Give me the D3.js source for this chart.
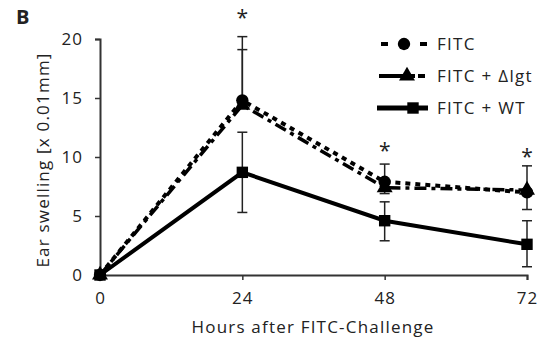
<!DOCTYPE html>
<html>
<head>
<script src="https://cdnjs.cloudflare.com/ajax/libs/d3/7.8.5/d3.min.js"></script>
<style>
  body { margin: 0; background: #fff; }
  text { font-family: "Open Sans", sans-serif; fill: #222; }
</style>
</head>
<body>
<svg id="chart" width="543" height="342"></svg>
<script>
  // data
  var hours = [0, 24, 48, 72];
  var fitc = [0, 14.8, 7.9, 7.0];
  var fitcHi = [0, 20.2, 9.4, 9.25];
  var fitcLo = [0, 14.8, 6.9, 5.55];
  var dlgt = [0, 14.4, 7.4, 7.2];
  var dlgtHi = [0, 19.1, 7.4, 7.2];
  var wt = [0, 8.7, 4.6, 2.6];
  var wtHi = [0, 12.1, 6.2, 4.6];
  var wtLo = [0, 5.3, 2.9, 0.7];
  var yTicks = [0, 5, 10, 15, 20];
  var stars = [24, 48, 72];
  var starY = [22.2, 10.9, 10.4];
  var legendNames = ["FITC", "FITC + \u0394lgt", "FITC + WT"];

  var svg = d3.select("#chart");
  var x = d3.scaleLinear().domain([0, 72]).range([100, 527]);
  var y = d3.scaleLinear().domain([0, 20]).range([275, 39]);

  // axes
  var xAxis = svg.append("g").attr("transform", "translate(0,275)")
    .call(d3.axisBottom(x).tickValues(hours).tickSize(5).tickPadding(12));
  var yAxis = svg.append("g").attr("transform", "translate(100,0)")
    .call(d3.axisLeft(y).tickValues(yTicks).tickSize(5).tickPadding(12));
  [xAxis, yAxis].forEach(function(a) {
    a.select(".domain").attr("stroke", "#333").attr("stroke-width", 2);
    a.selectAll(".tick line").attr("stroke", "#333").attr("stroke-width", 1.5);
    a.selectAll("text").style("font-size", "17px").style("letter-spacing", "1px").attr("fill", "#222");
  });

  svg.append("text").attr("x", 313).attr("y", 333).attr("text-anchor", "middle")
    .style("font-size", "17px").style("letter-spacing", "1.2px").text("Hours after FITC-Challenge");
  svg.append("text").attr("transform", "translate(49,160) rotate(-90)")
    .attr("text-anchor", "middle").style("font-size", "17px").style("letter-spacing", "1.2px")
    .text("Ear swelling [x 0.01mm]");
  svg.append("text").attr("x", 16).attr("y", 24).style("font-size", "20px")
    .style("font-weight", "bold").text("B");

  // error bars
  function errBar(xv, lo, hi) {
    if (lo === hi) return;
    svg.append("line").attr("x1", x(xv)).attr("x2", x(xv))
      .attr("y1", y(lo)).attr("y2", y(hi)).attr("stroke", "#222").attr("stroke-width", 1.5);
    [lo, hi].forEach(function(v) {
      svg.append("line").attr("x1", x(xv) - 5).attr("x2", x(xv) + 5)
        .attr("y1", y(v)).attr("y2", y(v)).attr("stroke", "#222").attr("stroke-width", 1.5);
    });
  }
  hours.forEach(function(h, i) {
    errBar(h, fitcLo[i], fitcHi[i]);
    errBar(h, dlgt[i], dlgtHi[i]);
    errBar(h, wtLo[i], wtHi[i]);
  });

  var line = d3.line().x(function(d) { return x(d[0]); }).y(function(d) { return y(d[1]); });
  function pts(vals) { return hours.map(function(h, i) { return [h, vals[i]]; }); }

  svg.append("path").attr("d", line(pts(wt))).attr("fill", "none")
    .attr("stroke", "#000").attr("stroke-width", 4);
  svg.append("path").attr("d", line(pts(dlgt))).attr("fill", "none")
    .attr("stroke", "#000").attr("stroke-width", 3.5).attr("stroke-dasharray", "12,5,4,5");
  svg.append("path").attr("d", line(pts(fitc))).attr("fill", "none")
    .attr("stroke", "#000").attr("stroke-width", 4).attr("stroke-dasharray", "5,5");

  var sq = d3.symbol().type(d3.symbolSquare).size(130);
  var tri = d3.symbol().type(d3.symbolTriangle).size(110);
  var circ = d3.symbol().type(d3.symbolCircle).size(120);

  svg.selectAll(".wt").data(pts(wt)).enter().append("path")
    .attr("d", sq).attr("transform", function(d) { return "translate(" + x(d[0]) + "," + y(d[1]) + ")"; });
  svg.selectAll(".dlgt").data(pts(dlgt)).enter().append("path")
    .attr("d", tri).attr("transform", function(d) { return "translate(" + x(d[0]) + "," + y(d[1]) + ")"; });
  svg.selectAll(".fitc").data(pts(fitc)).enter().append("path")
    .attr("d", circ).attr("transform", function(d) { return "translate(" + x(d[0]) + "," + y(d[1]) + ")"; });

  // significance stars
  stars.forEach(function(h, i) {
    svg.append("text").attr("x", x(h)).attr("y", y(starY[i]) + 12)
      .attr("text-anchor", "middle").style("font-size", "21px").text("*");
  });

  // legend
  var legY = [44, 76, 108];
  var legSym = [circ, tri, sq];
  var legX1 = [381, 379, 377];
  var legX2 = [427, 425, 428];
  var legDash = ["7,32,7", "36,3,7,20", null];
  var leg = svg.append("g");
  legendNames.forEach(function(n, i) {
    var l = leg.append("line").attr("x1", legX1[i]).attr("x2", legX2[i])
      .attr("y1", legY[i]).attr("y2", legY[i]).attr("stroke", "#000")
      .attr("stroke-width", i === 2 ? 5 : 4);
    if (legDash[i]) l.attr("stroke-dasharray", legDash[i]);
    leg.append("path").attr("d", legSym[i])
      .attr("transform", "translate(" + [404, 407, 413][i] + "," + legY[i] + ")");
    leg.append("text").attr("x", 437).attr("y", legY[i] + 6).style("font-size", "17px")
      .style("letter-spacing", "1.3px").text(n);
  });
</script>
</body>
</html>
